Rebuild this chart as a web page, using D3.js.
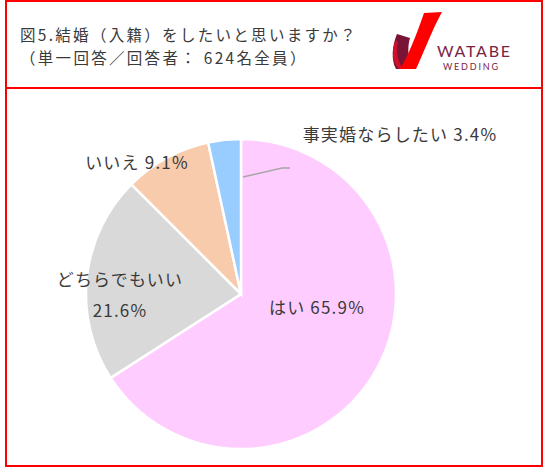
<!DOCTYPE html>
<html><head><meta charset="utf-8">
<script src="https://cdn.jsdelivr.net/npm/d3@7"></script>
<style>body{margin:0;background:#fff}svg{display:block}text{font-family:"Noto Sans CJK JP","Noto Sans",sans-serif;fill:#3A3A3A}</style>
</head><body><svg id="c" width="544" height="468"></svg>
<script>
const categories = ["はい", "どちらでもいい", "いいえ", "事実婚ならしたい"];
const values = [65.9, 21.6, 9.1, 3.4];
const colors = ["#FFCCFF", "#D9D9D9", "#F8CBAD", "#99CCFF"];
const titleLines = ["図5.結婚（入籍）をしたいと思いますか？", "（単一回答／回答者： 624名全員）"];

const svg = d3.select("#c");
// frame
svg.append("rect").attr("x",6).attr("y",1).attr("width",536).attr("height",465)
  .attr("fill","none").attr("stroke","#FF0000").attr("stroke-width",2);
svg.append("line").attr("x1",6).attr("x2",542).attr("y1",88).attr("y2",88)
  .attr("stroke","#FF0000").attr("stroke-width",2);

// title
titleLines.forEach((t,i)=>svg.append("text").attr("x",20).attr("y",41+i*22.5)
  .style("font-size","15.5px").style("letter-spacing","2.3px").text(t));

// logo
const logo = svg.append("g");
logo.append("path").attr("d","M397,34 C392,46 391,60 396,69 L413,69 C408,60 407,48 410,38 Z").attr("fill","#7A1436");
logo.append("path").attr("d","M396,40 C391,50 392,62 399,69 L403,69 C397,60 396,50 398,42 Z").attr("fill","#D0102A");
logo.append("path").attr("d","M424,13 L442,12 C432,30 424,52 416,69 L400,69 C408,56 416,36 424,13 Z").attr("fill","#FF0000");
logo.append("text").attr("x",437).attr("y",57).style("font-size","16px").style("font-family","Lato, 'Open Sans', sans-serif").style("fill","#7B2346").attr("textLength",73).text("WATABE");
logo.append("text").attr("x",443).attr("y",70).style("font-size","9px").style("font-family","Lato, 'Open Sans', sans-serif").style("fill","#7B2346").attr("textLength",55).text("WEDDING");

// pie
const cx = 241, cy = 294, r = 155;
const pie = d3.pie().sort(null).value(d=>d);
const arc = d3.arc().innerRadius(0).outerRadius(r);
const g = svg.append("g").attr("transform",`translate(${cx},${cy})`);
const arcs = pie(values);
g.selectAll("path").data(arcs).join("path")
  .attr("d",arc).attr("fill",(d,i)=>colors[i]).attr("stroke","#fff").attr("stroke-width",2.5);

// labels (layout positions relative to centre)
const labelPos = [
  {x: 76, y: 20, lines:[categories[0]+" "+values[0].toFixed(1)+"%"]},
  {x: -121, y: -8, lines:[categories[1], values[1].toFixed(1)+"%"]},
  {x: -104, y: -125, lines:[categories[2]+" "+values[2].toFixed(1)+"%"]},
  {x: 159, y: -153, lines:[categories[3]+" "+values[3].toFixed(1)+"%"]}
];
labelPos.forEach((p,i)=>{
  const t = g.append("text").attr("x",p.x).attr("y",p.y).attr("text-anchor","middle")
    .style("font-size","17px").style("letter-spacing","1.2px");
  p.lines.forEach((l,j)=>t.append("tspan").attr("x",p.x).attr("dy", j===0?0:31).text(l));
});
// leader line for small slice
g.append("polyline").attr("points","2,-117 41,-126 49,-126")
  .attr("fill","none").attr("stroke","#A6A6A6").attr("stroke-width",1.5);
</script></body></html>
